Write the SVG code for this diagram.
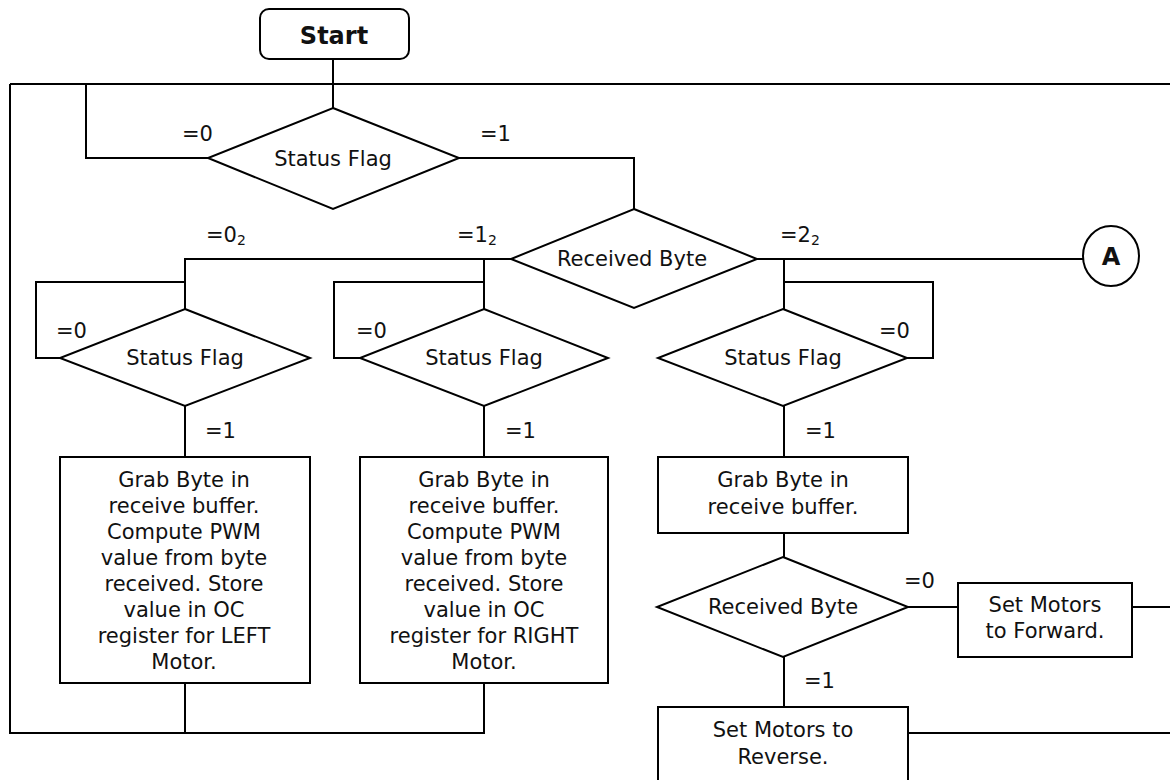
<svg xmlns="http://www.w3.org/2000/svg" width="1170" height="780" viewBox="0 0 1170 780">
<style>
.n{fill:#fff;stroke:#000;stroke-width:2}
.c{fill:none;stroke:#000;stroke-width:2}
text{font-family:"DejaVu Sans","Verdana",sans-serif;font-size:21px;fill:#111}
.m{text-anchor:middle}
.b{font-weight:bold;font-size:24px}
.s{font-size:14px}
</style>
<rect width="1170" height="780" fill="#fff"/>
<g id="connectors">
<path class="c" d="M333,59 V108"/>
<path class="c" d="M10,84 H1170"/>
<path class="c" d="M10,84 V733 H484 V683"/>
<path class="c" d="M185,733 V683"/>
<path class="c" d="M86,84 V158 H208"/>
<path class="c" d="M459,158 H634 V209"/>
<path class="c" d="M511,259 H185 V309"/>
<path class="c" d="M185,282 H36 V358 H60"/>
<path class="c" d="M484,259 V309"/>
<path class="c" d="M484,282 H334 V358 H360"/>
<path class="c" d="M757,259 H1083"/>
<path class="c" d="M784,259 V309"/>
<path class="c" d="M784,282 H933 V358 H907"/>
<path class="c" d="M185,406 V457"/>
<path class="c" d="M484,406 V457"/>
<path class="c" d="M784,406 V457"/>
<path class="c" d="M784,533 V557"/>
<path class="c" d="M908,607 H958"/>
<path class="c" d="M1132,607 H1170"/>
<path class="c" d="M784,657 V707"/>
<path class="c" d="M908,733 H1170"/>
</g>
<g id="labels">
<text x="182" y="141">=0</text>
<text x="480" y="141">=1</text>
<text x="206" y="242">=0<tspan class="s" dy="3">2</tspan></text>
<text x="457" y="242">=1<tspan class="s" dy="3">2</tspan></text>
<text x="780" y="242">=2<tspan class="s" dy="3">2</tspan></text>
<text x="56" y="338">=0</text>
<text x="356" y="338">=0</text>
<text x="879" y="338">=0</text>
<text x="205" y="438">=1</text>
<text x="505" y="438">=1</text>
<text x="805" y="438">=1</text>
<text x="904" y="588">=0</text>
<text x="804" y="688">=1</text>
</g>
<g id="start">
<rect class="n" x="260" y="9" width="149" height="50" rx="9"/>
<text class="m b" x="334" y="44">Start</text>
</g>
<g id="status0">
<polygon class="n" points="333,108 459,158 333,209 208,158"/>
<text class="m" x="333" y="166">Status Flag</text>
</g>
<g id="received1">
<polygon class="n" points="634,209 757,259 634,308 511,259"/>
<text class="m" x="632" y="266">Received Byte</text>
</g>
<g id="connectorA">
<ellipse class="n" cx="1111" cy="256" rx="28" ry="30"/>
<text class="m b" x="1111" y="265">A</text>
</g>
<g id="status1">
<polygon class="n" points="185,309 310,358 185,406 60,358"/>
<text class="m" x="185" y="365">Status Flag</text>
</g>
<g id="status2">
<polygon class="n" points="484,309 608,358 484,406 360,358"/>
<text class="m" x="484" y="365">Status Flag</text>
</g>
<g id="status3">
<polygon class="n" points="783,309 907,358 783,406 658,358"/>
<text class="m" x="783" y="365">Status Flag</text>
</g>
<g id="boxLeft">
<rect class="n" x="60" y="457" width="250" height="226"/>
<text class="m" x="184"><tspan x="184" y="487">Grab Byte in</tspan><tspan x="184" y="513">receive buffer.</tspan><tspan x="184" y="539">Compute PWM</tspan><tspan x="184" y="565">value from byte</tspan><tspan x="184" y="591">received. Store</tspan><tspan x="184" y="617">value in OC</tspan><tspan x="184" y="643">register for LEFT</tspan><tspan x="184" y="669">Motor.</tspan></text>
</g>
<g id="boxRight">
<rect class="n" x="360" y="457" width="248" height="226"/>
<text class="m" x="484"><tspan x="484" y="487">Grab Byte in</tspan><tspan x="484" y="513">receive buffer.</tspan><tspan x="484" y="539">Compute PWM</tspan><tspan x="484" y="565">value from byte</tspan><tspan x="484" y="591">received. Store</tspan><tspan x="484" y="617">value in OC</tspan><tspan x="484" y="643">register for RIGHT</tspan><tspan x="484" y="669">Motor.</tspan></text>
</g>
<g id="boxGrab">
<rect class="n" x="658" y="457" width="250" height="76"/>
<text class="m" x="783"><tspan x="783" y="487">Grab Byte in</tspan><tspan x="783" y="514">receive buffer.</tspan></text>
</g>
<g id="received2">
<polygon class="n" points="783,557 908,607 783,657 657,607"/>
<text class="m" x="783" y="614">Received Byte</text>
</g>
<g id="forward">
<rect class="n" x="958" y="583" width="174" height="74"/>
<text class="m" x="1045"><tspan x="1045" y="612">Set Motors</tspan><tspan x="1045" y="638">to Forward.</tspan></text>
</g>
<g id="reverse">
<rect class="n" x="658" y="707" width="250" height="90"/>
<text class="m" x="783"><tspan x="783" y="737">Set Motors to</tspan><tspan x="783" y="764">Reverse.</tspan></text>
</g>
</svg>
